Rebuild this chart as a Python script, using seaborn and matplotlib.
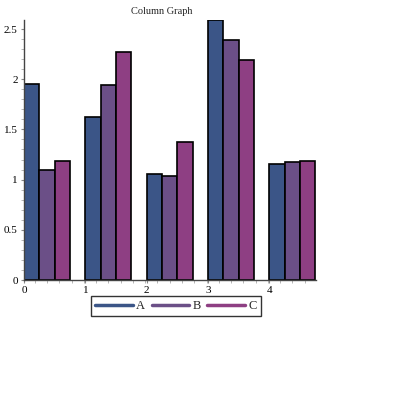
import matplotlib
matplotlib.use("Agg")
import matplotlib.pyplot as plt
import numpy as np
import pandas as pd
import seaborn as sns
from matplotlib.lines import Line2D
from matplotlib.ticker import MultipleLocator

groups = [0, 1, 2, 3, 4]
series_a = [1.95, 1.62, 1.06, 2.59, 1.16]
series_b = [1.10, 1.94, 1.04, 2.39, 1.18]
series_c = [1.19, 2.27, 1.37, 2.19, 1.19]
series_names = ["A", "B", "C"]
colors = ["#3b5587", "#6b4f87", "#8e3f83"]

df = pd.DataFrame({
    "group": groups * 3,
    "series": np.repeat(series_names, len(groups)),
    "value": series_a + series_b + series_c,
})

sns.set_theme(style="white")
plt.rcParams["font.family"] = ["Liberation Serif", "DejaVu Serif"]

fig = plt.figure(figsize=(3.95, 3.95), dpi=100)
ax = fig.add_axes([24 / 395, 115 / 395, 292 / 395, 260 / 395])

sns.barplot(
    data=df, x="group", y="value", hue="series", palette=colors,
    saturation=1, width=0.75, dodge=True, edgecolor="black", linewidth=1.2,
    legend=False, ax=ax,
)

ax.set_xlim(-0.375, 4.375 + 0.01)
ax.set_ylim(0, max(series_a))
ax.set_xticks([g - 0.375 for g in groups])
ax.set_xticklabels([str(g) for g in groups])
ax.xaxis.set_minor_locator(MultipleLocator(0.2))
ax.set_yticks([0, 0.5, 1, 1.5, 2, 2.5])
ax.set_yticklabels(["0", "0.5", "1", "1.5", "2", "2.5"])
ax.yaxis.set_minor_locator(MultipleLocator(0.1))
ax.tick_params(axis="both", which="major", direction="out", length=2.5, width=0.8,
               labelsize=8, pad=2, color="#888888", labelcolor="black",
               bottom=True, left=True)
ax.tick_params(axis="both", which="minor", direction="out", length=2, width=0.6,
               color="#aaaaaa", bottom=True, left=True)
ax.set_xlabel("")
ax.set_ylabel("")
for side in ["top", "right"]:
    ax.spines[side].set_visible(False)
for side in ["left", "bottom"]:
    ax.spines[side].set_color("#444444")
    ax.spines[side].set_linewidth(1.0)

fig.text(162 / 395, 1 - 12 / 395, "Column Graph", ha="center", va="center", fontsize=7.5)

handles = [Line2D([0], [0], color=c, lw=2.5) for c in colors]
leg = fig.legend(
    handles, series_names, loc="center", ncol=3,
    bbox_to_anchor=(176 / 395, 1 - 306 / 395), frameon=True, fancybox=False,
    fontsize=9, handlelength=3.0, handletextpad=0.3, columnspacing=0.5,
    borderpad=0.3, borderaxespad=0,
)
leg.get_frame().set_edgecolor("black")
leg.get_frame().set_linewidth(1.0)

fig.savefig("out.png", dpi=100)
